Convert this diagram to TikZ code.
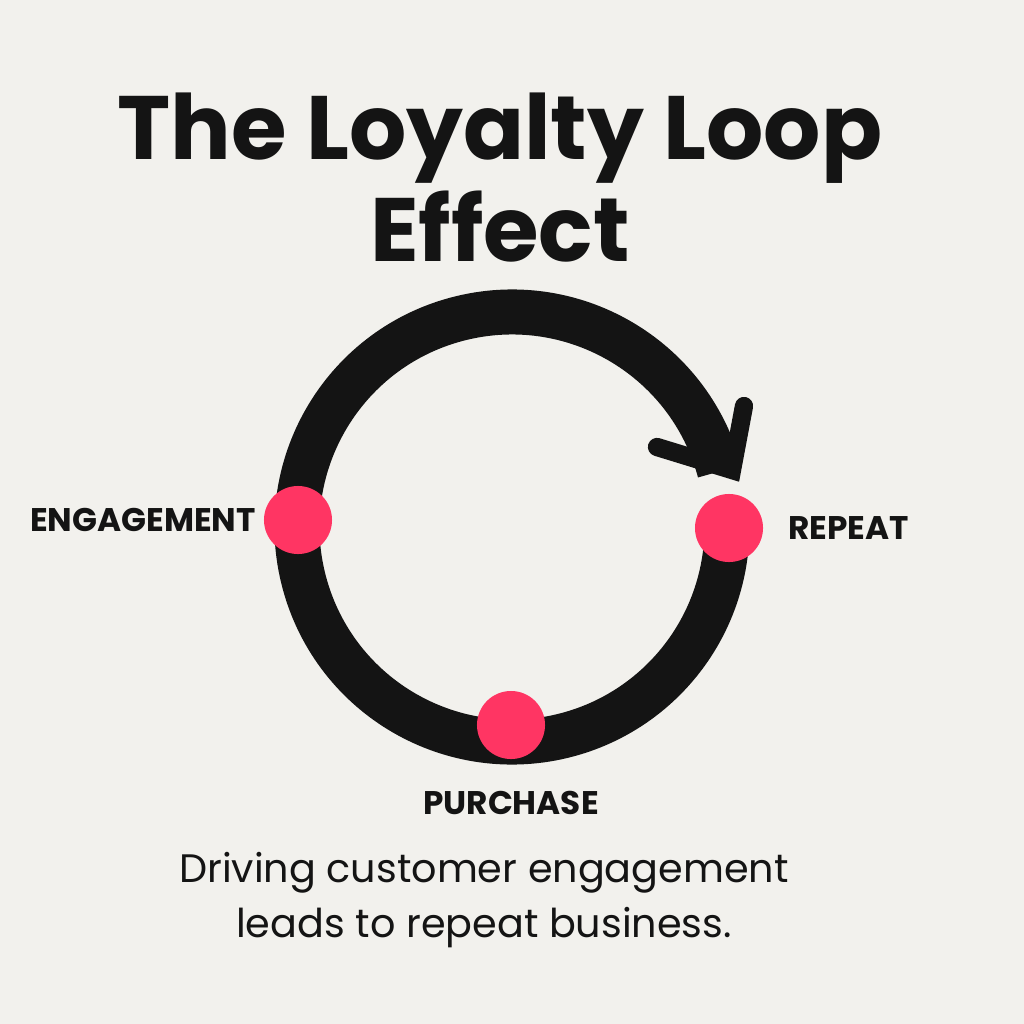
\documentclass[tikz,border=0pt]{standalone}
\usepackage{fontspec}
\setmainfont{Poppins}
\definecolor{paper}{HTML}{F2F1ED}
\definecolor{dotpink}{HTML}{FF3563}
\definecolor{ink}{HTML}{141414}
\begin{document}
\begin{tikzpicture}[x=0.01cm,y=-0.01cm,
    every node/.append style={text=ink},
    stage/.style={circle, fill=dotpink, minimum size=0.68cm, inner sep=0pt},
    tag/.style={font=\bfseries\fontsize{9.3}{11}\selectfont}
]
    % canvas
    \fill[paper] (0,0) rectangle (1024,1024);
    \useasboundingbox (0,0) rectangle (1024,1024);

    % title
    \node[font=\bfseries\fontsize{25.6}{29}\selectfont, align=center] (title) at (500,178) {The Loyalty Loop\\Effect};

    % loop
    \coordinate (hub) at (512,527);
    \draw[ink, line width=12.8pt] ([shift={(-15:215)}]hub) arc[start angle=-15, end angle=-355, radius=215];
    \coordinate (tip) at (732,470);
    \draw[ink, line width=5.2pt, line cap=round, line join=miter] (657,447) -- (tip) -- (744,406);

    % stages
    \node[stage] (engage) at (298,520) {};
    \node[stage] (buy) at (511,725) {};
    \node[stage] (again) at (729,528) {};
    \node[tag, anchor=east] at ([xshift=0.05cm]engage.west) {ENGAGEMENT};
    \node[tag, anchor=west] at ([xshift=0.12cm]again.east) {REPEAT};
    \node[tag] at (511,803) {PURCHASE};

    % caption
    \node[font=\fontsize{11.3}{15.5}\selectfont, align=center] (caption) at (484,900) {Driving customer engagement\\leads to repeat business.};
\end{tikzpicture}
\end{document}
